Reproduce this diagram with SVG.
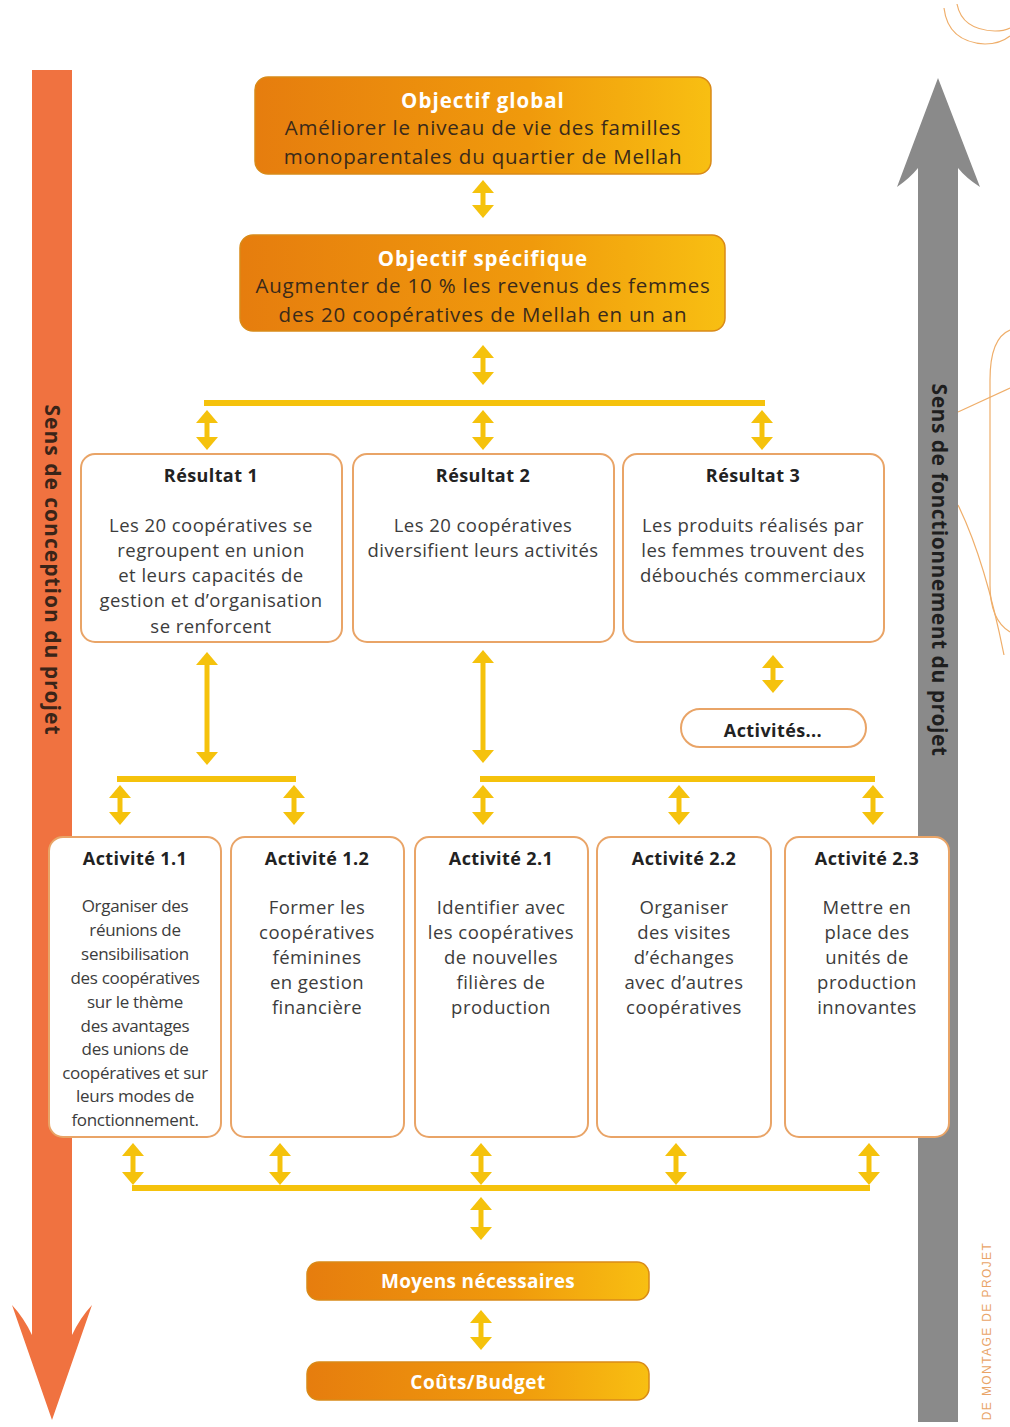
<svg xmlns="http://www.w3.org/2000/svg" width="1010" height="1427" viewBox="0 0 1010 1427">
<defs>
<linearGradient id="og" x1="0" y1="0" x2="1" y2="0">
<stop offset="0" stop-color="#E67D0E"/>
<stop offset="0.6" stop-color="#F09A0C"/>
<stop offset="1" stop-color="#F8BF12"/>
</linearGradient>
<marker id="ah" viewBox="0 0 13 22" markerWidth="13" markerHeight="22" refX="3" refY="11" markerUnits="userSpaceOnUse" orient="auto-start-reverse">
<path d="M0,0 L13,11 L0,22 Z" fill="#F5C20C"/>
</marker>
<style>
.ob{fill:url(#og);stroke:#D98A18;stroke-width:1.5}
.wb{fill:#fff;stroke:#E9A467;stroke-width:2}
.ttl{font-family:"Open Sans","Noto Sans",sans-serif;font-weight:700;fill:#fff;text-anchor:middle}
.otx{font-family:"Open Sans","Noto Sans",sans-serif;font-size:20.5px;letter-spacing:0.8px;fill:#3a2a1a;text-anchor:middle}
.hd{font-family:"Open Sans","Noto Sans",sans-serif;font-weight:700;font-size:18px;letter-spacing:0.4px;fill:#222;text-anchor:middle}
.tx{font-family:"Open Sans","Noto Sans",sans-serif;font-size:18.5px;letter-spacing:0.45px;fill:#3c3c3c;text-anchor:middle}
.txn{font-family:"Open Sans","Noto Sans",sans-serif;font-size:17px;letter-spacing:-0.3px;fill:#3c3c3c;text-anchor:middle}
.ar{stroke:#F5C20C;stroke-width:5;fill:none;marker-start:url(#ah);marker-end:url(#ah)}
.bar{stroke:#F5C20C;stroke-width:6;fill:none}
.side{font-family:"Open Sans","Noto Sans",sans-serif;font-weight:700;font-size:21px;text-anchor:middle}
.dec{fill:none;stroke:#EFAE6A;stroke-width:1.2}
</style>
</defs>

<g id="decor">
<path class="dec" d="M944,8 Q948,42 985,44 Q1000,44 1010,36"/>
<path class="dec" d="M957,4 Q962,30 995,31 Q1004,31 1010,28"/>
<path class="dec" d="M1010,330 Q990,338 990,380 V585 Q990,620 1010,632"/>
<path class="dec" d="M958,412 L1010,388"/>
<path class="dec" d="M958,505 Q985,560 1004,655"/>
<text x="0" y="0" transform="translate(991,1331) rotate(-90)" font-family="'Liberation Sans',sans-serif" font-size="12" letter-spacing="1.4" fill="#E9A467" text-anchor="middle">DE MONTAGE DE PROJET</text>
</g>

<g id="axis-conception">
<path d="M32,70 H72 V1335 Q80,1318 92,1305 L52,1420 L12,1305 Q24,1318 32,1335 Z" fill="#F07240"/>
<text class="side" x="0" y="0" transform="translate(45,570) rotate(90)" fill="#3a2418" letter-spacing="1">Sens de conception du projet</text>
</g>

<g id="axis-fonctionnement">
<path d="M918,1422 V168 Q910,178 897,187 L938,78 L980,187 Q966,178 958,168 V1422 Z" fill="#8A8A8A"/>
<text class="side" x="0" y="0" transform="translate(932,570) rotate(90)" fill="#1e1e1e" font-weight="600" letter-spacing="0.5">Sens de fonctionnement du projet</text>
</g>

<g id="connectors">
<line class="ar" x1="483" y1="190" x2="483" y2="208"/>
<line class="ar" x1="483" y1="355" x2="483" y2="375"/>
<line class="bar" x1="204" y1="403" x2="765" y2="403"/>
<line class="ar" x1="207" y1="420" x2="207" y2="440"/>
<line class="ar" x1="483" y1="420" x2="483" y2="440"/>
<line class="ar" x1="762" y1="420" x2="762" y2="440"/>
<line class="ar" x1="207" y1="662" x2="207" y2="755"/>
<line class="ar" x1="483" y1="660" x2="483" y2="753"/>
<line class="ar" x1="773" y1="665" x2="773" y2="683"/>
<line class="bar" x1="117" y1="779" x2="296" y2="779"/>
<line class="bar" x1="480" y1="779" x2="875" y2="779"/>
<line class="ar" x1="120" y1="795" x2="120" y2="815"/>
<line class="ar" x1="294" y1="795" x2="294" y2="815"/>
<line class="ar" x1="483" y1="795" x2="483" y2="815"/>
<line class="ar" x1="679" y1="795" x2="679" y2="815"/>
<line class="ar" x1="873" y1="795" x2="873" y2="815"/>
<line class="ar" x1="133" y1="1153" x2="133" y2="1175"/>
<line class="ar" x1="280" y1="1153" x2="280" y2="1175"/>
<line class="ar" x1="481" y1="1153" x2="481" y2="1175"/>
<line class="ar" x1="676" y1="1153" x2="676" y2="1175"/>
<line class="ar" x1="869" y1="1153" x2="869" y2="1175"/>
<line class="bar" x1="132" y1="1188" x2="870" y2="1188"/>
<line class="ar" x1="481" y1="1207" x2="481" y2="1230"/>
<line class="ar" x1="481" y1="1320" x2="481" y2="1340"/>
</g>

<g id="objectif-global">
<rect class="ob" x="255" y="77" width="456" height="97" rx="13"/>
<text class="ttl" x="483" y="108" font-size="20.5" letter-spacing="1">Objectif global</text>
<text class="otx" x="483" y="135">Améliorer le niveau de vie des familles</text>
<text class="otx" x="483" y="164">monoparentales du quartier de Mellah</text>
</g>

<g id="objectif-specifique">
<rect class="ob" x="240" y="235" width="485" height="96" rx="13"/>
<text class="ttl" x="483" y="266" font-size="20.5" letter-spacing="1">Objectif spécifique</text>
<text class="otx" x="483" y="293">Augmenter de 10 % les revenus des femmes</text>
<text class="otx" x="483" y="322">des 20 coopératives de Mellah en un an</text>
</g>

<g id="resultat-1">
<rect class="wb" x="81" y="454" width="261" height="188" rx="14"/>
<text class="hd" x="211" y="482">Résultat 1</text>
<text class="tx" x="211" y="532">Les 20 coopératives se</text>
<text class="tx" x="211" y="557">regroupent en union</text>
<text class="tx" x="211" y="582">et leurs capacités de</text>
<text class="tx" x="211" y="607">gestion et d’organisation</text>
<text class="tx" x="211" y="633">se renforcent</text>
</g>

<g id="resultat-2">
<rect class="wb" x="353" y="454" width="261" height="188" rx="14"/>
<text class="hd" x="483" y="482">Résultat 2</text>
<text class="tx" x="483" y="532">Les 20 coopératives</text>
<text class="tx" x="483" y="557">diversifient leurs activités</text>
</g>

<g id="resultat-3">
<rect class="wb" x="623" y="454" width="261" height="188" rx="14"/>
<text class="hd" x="753" y="482">Résultat 3</text>
<text class="tx" x="753" y="532">Les produits réalisés par</text>
<text class="tx" x="753" y="557">les femmes trouvent des</text>
<text class="tx" x="753" y="582">débouchés commerciaux</text>
</g>

<g id="activites-r3">
<rect class="wb" x="681" y="709" width="185" height="38" rx="19"/>
<text class="hd" x="773" y="737">Activités...</text>
</g>

<g id="activite-1-1">
<rect class="wb" x="49" y="837" width="172" height="300" rx="14"/>
<text class="hd" x="135" y="865">Activité 1.1</text>
<text class="txn" x="135" y="912">Organiser des</text>
<text class="txn" x="135" y="936">réunions de</text>
<text class="txn" x="135" y="960">sensibilisation</text>
<text class="txn" x="135" y="984">des coopératives</text>
<text class="txn" x="135" y="1008">sur le thème</text>
<text class="txn" x="135" y="1032">des avantages</text>
<text class="txn" x="135" y="1055">des unions de</text>
<text class="txn" x="135" y="1079">coopératives et sur</text>
<text class="txn" x="135" y="1102">leurs modes de</text>
<text class="txn" x="135" y="1126">fonctionnement.</text>
</g>

<g id="activite-1-2">
<rect class="wb" x="231" y="837" width="173" height="300" rx="14"/>
<text class="hd" x="317" y="865">Activité 1.2</text>
<text class="tx" x="317" y="914">Former les</text>
<text class="tx" x="317" y="939">coopératives</text>
<text class="tx" x="317" y="964">féminines</text>
<text class="tx" x="317" y="989">en gestion</text>
<text class="tx" x="317" y="1014">financière</text>
</g>

<g id="activite-2-1">
<rect class="wb" x="415" y="837" width="173" height="300" rx="14"/>
<text class="hd" x="501" y="865">Activité 2.1</text>
<text class="tx" x="501" y="914">Identifier avec</text>
<text class="tx" x="501" y="939">les coopératives</text>
<text class="tx" x="501" y="964">de nouvelles</text>
<text class="tx" x="501" y="989">filières de</text>
<text class="tx" x="501" y="1014">production</text>
</g>

<g id="activite-2-2">
<rect class="wb" x="597" y="837" width="174" height="300" rx="14"/>
<text class="hd" x="684" y="865">Activité 2.2</text>
<text class="tx" x="684" y="914">Organiser</text>
<text class="tx" x="684" y="939">des visites</text>
<text class="tx" x="684" y="964">d’échanges</text>
<text class="tx" x="684" y="989">avec d’autres</text>
<text class="tx" x="684" y="1014">coopératives</text>
</g>

<g id="activite-2-3">
<rect class="wb" x="785" y="837" width="164" height="300" rx="14"/>
<text class="hd" x="867" y="865">Activité 2.3</text>
<text class="tx" x="867" y="914">Mettre en</text>
<text class="tx" x="867" y="939">place des</text>
<text class="tx" x="867" y="964">unités de</text>
<text class="tx" x="867" y="989">production</text>
<text class="tx" x="867" y="1014">innovantes</text>
</g>

<g id="moyens">
<rect class="ob" x="307" y="1262" width="342" height="38" rx="12"/>
<text class="ttl" x="478" y="1288" font-size="19" letter-spacing="0.3">Moyens nécessaires</text>
</g>

<g id="couts">
<rect class="ob" x="307" y="1362" width="342" height="38" rx="12"/>
<text class="ttl" x="478" y="1389" font-size="19" letter-spacing="0.5">Coûts/Budget</text>
</g>
</svg>
